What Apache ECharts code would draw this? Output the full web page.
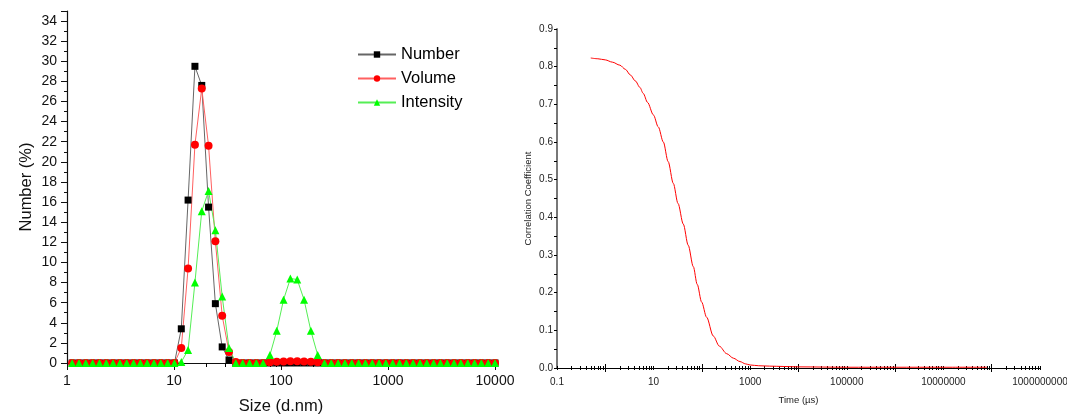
<!DOCTYPE html>
<html>
<head>
<meta charset="utf-8">
<script src="https://cdn.jsdelivr.net/npm/echarts@6/dist/echarts.min.js"></script>
<style>
  html, body { margin: 0; padding: 0; background: #ffffff; }
  #chart { width: 1067px; height: 417px; }
</style>
</head>
<body>
<div id="chart"></div>
<script>
// Size distribution bins (d.nm) and the percentage in each bin
const sizes = [1.117, 1.294, 1.499, 1.736, 2.01, 2.328, 2.696, 3.122, 3.615, 4.187, 4.849, 5.615, 6.503, 7.531, 8.721,
  10.1, 11.7, 13.54, 15.69, 18.17, 21.04, 24.36, 28.21, 32.67, 37.84, 43.82, 50.75, 58.77, 68.06, 78.82, 91.28,
  105.7, 122.4, 141.8, 164.2, 190.1, 220.2, 255, 295.3, 342, 396.1, 458.7, 531.2, 615.1, 712.4, 825, 955.4,
  1106, 1281, 1484, 1718, 1990, 2305, 2669, 3091, 3580, 4145, 4801, 5560, 6439, 7456, 8635, 10000];

const numberPct = [0, 0, 0, 0, 0, 0, 0, 0, 0, 0, 0, 0, 0, 0, 0,
  0, 3.4, 16.2, 29.5, 27.6, 15.5, 5.9, 1.6, 0.3, 0, 0, 0, 0, 0, 0, 0,
  0, 0, 0, 0, 0, 0, 0, 0, 0, 0, 0, 0, 0, 0, 0, 0,
  0, 0, 0, 0, 0, 0, 0, 0, 0, 0, 0, 0, 0, 0, 0, 0];

const volumePct = [0, 0, 0, 0, 0, 0, 0, 0, 0, 0, 0, 0, 0, 0, 0,
  0, 1.5, 9.4, 21.7, 27.3, 21.6, 12.1, 4.7, 1.1, 0.1, 0, 0, 0, 0, 0.08, 0.12,
  0.15, 0.17, 0.17, 0.15, 0.12, 0.08, 0, 0, 0, 0, 0, 0, 0, 0, 0, 0,
  0, 0, 0, 0, 0, 0, 0, 0, 0, 0, 0, 0, 0, 0, 0, 0];

const intensityPct = [0, 0, 0, 0, 0, 0, 0, 0, 0, 0, 0, 0, 0, 0, 0,
  0, 0.1, 1.3, 8.0, 15.1, 17.1, 13.2, 6.6, 1.5, 0, 0, 0, 0, 0, 0.8, 3.2,
  6.3, 8.4, 8.3, 6.3, 3.2, 0.8, 0, 0, 0, 0, 0, 0, 0, 0, 0, 0,
  0, 0, 0, 0, 0, 0, 0, 0, 0, 0, 0, 0, 0, 0, 0, 0];

// Correlogram: delay time (µs) and correlation coefficient
const corrTime = [0.5, 0.7, 1, 1.4, 2, 2.6, 3.3, 4.2, 5.2, 6.1, 7.5, 9.9, 12.5, 15.9, 20, 25.6, 32, 41.2, 52,
  66.4, 80, 98.8, 125, 172, 230, 326, 450, 615, 800, 1000, 1500, 2500, 5000, 10000, 100000, 1000000,
  10000000, 80000000];
const corrCoef = [0.823, 0.821, 0.818, 0.812, 0.804, 0.793, 0.778, 0.762, 0.745, 0.729, 0.705, 0.672, 0.640,
  0.600, 0.548, 0.490, 0.437, 0.382, 0.326, 0.269, 0.222, 0.175, 0.135, 0.085, 0.058, 0.038, 0.026, 0.017,
  0.011, 0.008, 0.006, 0.005, 0.004, 0.003, 0.002, 0.002, 0.002, 0.002];

// Tick labels
const sizeTickLabels = [1, 10, 100, 1000, 10000];
const timeTickLabels = [0.1, 10, 1000, 100000, 10000000, 1000000000];
const timeMajorTicks = [1, 100, 10000, 1000000, 100000000];

function minorLogTicks(fromExp, toExp) {
  const out = [];
  for (let e = fromExp; e < toExp; e++) {
    for (let k = 2; k <= 9; k++) out.push(Number((k * Math.pow(10, e)).toPrecision(6)));
  }
  return out;
}
const sizeMinorTicks = minorLogTicks(0, 4);
const timeMinorTicks = minorLogTicks(-1, 9).concat(timeTickLabels);

const FONT = '"Liberation Sans", Arial, sans-serif';
const fmtNum = v => String(Number(Number(v).toPrecision(6)));

function tickOnlyAxis(grid, min, max, values, len, inside) {
  return {
    type: 'log', logBase: 10, gridIndex: grid, min: min, max: max, position: 'bottom',
    axisLine: { show: false, onZero: false },
    axisLabel: { show: false },
    splitLine: { show: false },
    axisTick: { show: true, customValues: values, length: len, inside: inside,
      lineStyle: { color: '#000', width: 1 } }
  };
}

const option = {
  animation: false,
  backgroundColor: '#ffffff',
  textStyle: { fontFamily: FONT },
  grid: [
    { left: 67, top: 11, width: 428, height: 352, outerBoundsMode: 'none', containLabel: false },
    { left: 557, top: 29, width: 483, height: 339, outerBoundsMode: 'none', containLabel: false }
  ],
  legend: {
    data: ['Number', 'Volume', 'Intensity'],
    orient: 'vertical',
    left: 352, top: 41,
    itemWidth: 38, itemHeight: 8, itemGap: 7,
    textStyle: { fontSize: 16.5, color: '#000', fontFamily: FONT }
  },
  xAxis: [
    {
      type: 'log', logBase: 10, gridIndex: 0, min: 1, max: 10000, position: 'bottom',
      axisLine: { onZero: false, lineStyle: { color: '#111', width: 1.2 } },
      axisTick: { customValues: sizeTickLabels, length: 7, lineStyle: { color: '#111', width: 1 } },
      axisLabel: { customValues: sizeTickLabels, formatter: fmtNum, fontSize: 14, color: '#111', margin: 11 },
      splitLine: { show: false },
      name: 'Size (d.nm)', nameLocation: 'middle', nameGap: 35,
      nameTextStyle: { fontSize: 16.5, color: '#111' }
    },
    tickOnlyAxis(0, 1, 10000, sizeMinorTicks, 4, false),
    {
      type: 'log', logBase: 10, gridIndex: 1, min: 0.1, max: 1000000000, position: 'bottom',
      axisLine: { onZero: false, lineStyle: { color: '#000', width: 1 } },
      axisTick: { customValues: timeMajorTicks, length: 4, lineStyle: { color: '#000', width: 1 } },
      axisLabel: { customValues: timeTickLabels, formatter: fmtNum, fontSize: 10, color: '#222', margin: 9 },
      splitLine: { show: false },
      name: 'Time (µs)', nameLocation: 'middle', nameGap: 27,
      nameTextStyle: { fontSize: 9.5, color: '#222' }
    },
    tickOnlyAxis(1, 0.1, 1000000000, timeMajorTicks, 4, true),
    tickOnlyAxis(1, 0.1, 1000000000, timeMinorTicks, 2, false),
    tickOnlyAxis(1, 0.1, 1000000000, timeMinorTicks, 2, true)
  ],
  yAxis: [
    {
      type: 'value', gridIndex: 0, min: 0, max: 35, interval: 2,
      axisLine: { show: true, onZero: false, lineStyle: { color: '#111', width: 1.2 } },
      axisTick: { show: true, length: 6, lineStyle: { color: '#111', width: 1 } },
      minorTick: { show: true, splitNumber: 2, length: 3, lineStyle: { color: '#111', width: 1 } },
      axisLabel: { fontSize: 14, color: '#111', margin: 10, showMaxLabel: false },
      splitLine: { show: false },
      name: 'Number (%)', nameLocation: 'middle', nameGap: 32,
      nameTextStyle: { fontSize: 16.5, color: '#111' }
    },
    {
      type: 'value', gridIndex: 1, min: 0, max: 0.9, interval: 0.1,
      axisLine: { show: true, onZero: false, lineStyle: { color: '#777', width: 2 } },
      axisTick: { show: true, length: 3, lineStyle: { color: '#000', width: 1 } },
      minorTick: { show: true, splitNumber: 2, length: 3, lineStyle: { color: '#000', width: 1 } },
      axisLabel: { fontSize: 10, color: '#222', margin: 4, formatter: v => v.toFixed(1) },
      splitLine: { show: false },
      name: 'Correlation Coefficient', nameLocation: 'middle', nameGap: 24,
      nameTextStyle: { fontSize: 9.5, color: '#222' }
    }
  ],
  series: [
    {
      name: 'Number', type: 'line', xAxisIndex: 0, yAxisIndex: 0,
      data: sizes.map((s, i) => [s, numberPct[i]]),
      symbol: 'rect', symbolSize: 7,
      itemStyle: { color: '#000000' },
      lineStyle: { color: '#666666', width: 1 }
    },
    {
      name: 'Volume', type: 'line', xAxisIndex: 0, yAxisIndex: 0,
      data: sizes.map((s, i) => [s, volumePct[i]]),
      symbol: 'circle', symbolSize: 8,
      itemStyle: { color: '#ff0000' },
      lineStyle: { color: '#ff6060', width: 1 }
    },
    {
      name: 'Intensity', type: 'line', xAxisIndex: 0, yAxisIndex: 0,
      data: sizes.map((s, i) => [s, intensityPct[i]]),
      symbol: 'triangle', symbolSize: 8,
      itemStyle: { color: '#00ff00' },
      lineStyle: { color: '#55ee55', width: 1 }
    },
    {
      name: 'Correlogram', type: 'line', xAxisIndex: 2, yAxisIndex: 1,
      data: corrTime.map((t, i) => [t, corrCoef[i]]),
      showSymbol: false, smooth: 0.3, smoothMonotone: 'x',
      lineStyle: { color: '#ff0000', width: 1 }
    }
  ]
};

const chart = echarts.init(document.getElementById('chart'), null, { renderer: 'canvas' });
chart.setOption(option);
</script>
</body>
</html>
